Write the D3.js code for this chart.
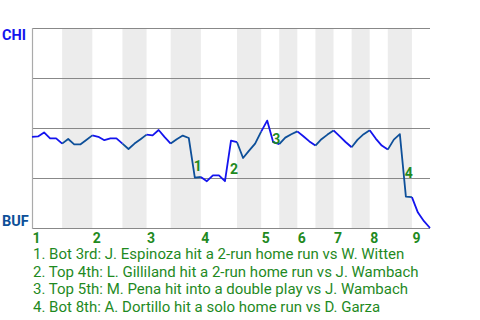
<!DOCTYPE html>
<html>
<head>
<meta charset="utf-8">
<script src="https://cdn.jsdelivr.net/npm/d3@7"></script>
<style>
  body { margin: 0; background: #fff; }
  svg { display: block; font-family: Roboto, "Noto Sans", sans-serif; }
</style>
</head>
<body>
<div id="chart"></div>
<script>
// team labels (away on top, home at bottom)
const teams = ["CHI", "BUF"];
const innings = ["1", "2", "3", "4", "5", "6", "7", "8", "9"];

// plate appearances in each half inning (top 1, bot 1, top 2, ...)
const halfInningPAs = [5, 5, 5, 4, 4, 5, 6, 4, 3, 3, 3, 3, 3, 3, 3, 4, 3];

// CHI win probability (%) after each plate appearance
const chiWinPct = [
  45.6, 45.8, 47.8, 44.8, 44.8, 42.2, 44.5, 41.8, 41.8, 44.0,
  46.3, 45.6, 43.9, 44.8, 44.8, 42.2, 39.5, 42.2, 44.4, 46.7,
  46.3, 49.0, 45.4, 42.2, 44.4, 46.2, 45.0, 25.2, 25.5, 23.4,
  26.3, 26.3, 23.4, 43.7, 42.9, 35.0, 38.7, 42.2, 48.2, 53.7,
  42.9, 41.9, 45.2, 46.9, 48.3, 45.9, 43.3, 41.2, 44.4, 46.7,
  48.8, 45.9, 43.0, 40.4, 44.2, 46.9, 48.9, 44.7, 41.2, 39.2,
  44.2, 46.9, 15.7, 15.4, 7.7, 3.4, 0.0
];

// key plays: plate appearance index where the swing ends, and description
const eventPA = [27, 33, 40, 62];
const eventText = [
  "Bot 3rd: J. Espinoza hit a 2-run home run vs W. Witten",
  "Top 4th: L. Gilliland hit a 2-run home run vs J. Wambach",
  "Top 5th: M. Pena hit into a double play vs J. Wambach",
  "Bot 8th: A. Dortillo hit a solo home run vs D. Garza"
];

const width = 480;
const height = 320;
const plot = { left: 32, right: 430, top: 28, bottom: 228 };

const colors = {
  top: "#1414ee",     // CHI batting
  bottom: "#0d4f99",  // BUF batting
  band: "#ececec",
  grid: "#888888",
  green: "#1f8a1f"
};

const svg = d3
  .select("#chart")
  .append("svg")
  .attr("width", width)
  .attr("height", height);

// cumulative PA boundaries for each half inning
const bounds = [0];
halfInningPAs.forEach((n) => bounds.push(bounds[bounds.length - 1] + n));
const totalPA = bounds[bounds.length - 1];

const x = d3.scaleLinear().domain([0, totalPA]).range([plot.left, plot.right]);
const y = d3.scaleLinear().domain([0, 100]).range([plot.bottom, plot.top]);

// grey bands for bottom halves
svg
  .append("g")
  .selectAll("rect")
  .data(halfInningPAs.map((n, i) => ({ i, s: bounds[i], e: bounds[i + 1] })).filter((d) => d.i % 2 === 1))
  .join("rect")
  .attr("x", (d) => x(d.s))
  .attr("y", plot.top)
  .attr("width", (d) => x(d.e) - x(d.s))
  .attr("height", plot.bottom - plot.top)
  .attr("fill", colors.band);

// horizontal gridlines
svg
  .append("g")
  .selectAll("line")
  .data([0, 25, 50, 75, 100])
  .join("line")
  .attr("x1", plot.left)
  .attr("x2", plot.right)
  .attr("y1", (d) => Math.round(y(d)) + 0.5)
  .attr("y2", (d) => Math.round(y(d)) + 0.5)
  .attr("stroke", colors.grid)
  .attr("stroke-width", 1.2);

// left edge
svg
  .append("line")
  .attr("x1", plot.left + 0.5)
  .attr("x2", plot.left + 0.5)
  .attr("y1", plot.top)
  .attr("y2", plot.bottom + 1)
  .attr("stroke", "#aaaaaa")
  .attr("stroke-width", 1.2);

// win probability line, one piece per half inning
const line = d3
  .line()
  .x((d) => x(d.k))
  .y((d) => y(d.p));

const pts = chiWinPct.map((p, k) => ({ k, p }));

svg
  .append("g")
  .selectAll("path")
  .data(halfInningPAs.map((n, i) => ({ i, seg: pts.slice(bounds[i], bounds[i + 1] + 1) })))
  .join("path")
  .attr("d", (d) => line(d.seg))
  .attr("fill", "none")
  .attr("stroke", (d) => (d.i % 2 === 0 ? colors.top : colors.bottom))
  .attr("stroke-width", 1.8)
  .attr("stroke-linejoin", "round");

// team labels
svg
  .append("text")
  .attr("x", 2)
  .attr("y", 40)
  .attr("fill", colors.top)
  .style("font-weight", "bold")
  .style("font-size", "14.5px")
  .text(teams[0]);

svg
  .append("text")
  .attr("x", 2)
  .attr("y", 226)
  .attr("fill", colors.bottom)
  .style("font-weight", "bold")
  .style("font-size", "14.5px")
  .text(teams[1]);

// inning labels at the start of each top half
svg
  .append("g")
  .selectAll("text")
  .data(innings)
  .join("text")
  .attr("x", (d, i) => x(bounds[i * 2]) + 0.5)
  .attr("y", 243)
  .attr("fill", colors.green)
  .style("font-weight", "bold")
  .style("font-size", "14px")
  .text((d) => d);

// event markers beside each big swing
svg
  .append("g")
  .selectAll("text")
  .data(eventPA)
  .join("text")
  .attr("x", (k) => x(k) + 3)
  .attr("y", (k) => (y(chiWinPct[k - 1]) + y(chiWinPct[k])) / 2 + 8)
  .attr("text-anchor", "middle")
  .attr("dominant-baseline", "central")
  .attr("fill", colors.green)
  .style("font-weight", "bold")
  .style("font-size", "14px")
  .text((k, i) => i + 1);

// legend
svg
  .append("g")
  .selectAll("text")
  .data(eventText)
  .join("text")
  .attr("x", 33)
  .attr("y", (d, i) => 259 + i * 17.7)
  .attr("fill", colors.green)
  .style("font-size", "15px")
  .text((d, i) => `${i + 1}. ${d}`);
</script>
</body>
</html>
